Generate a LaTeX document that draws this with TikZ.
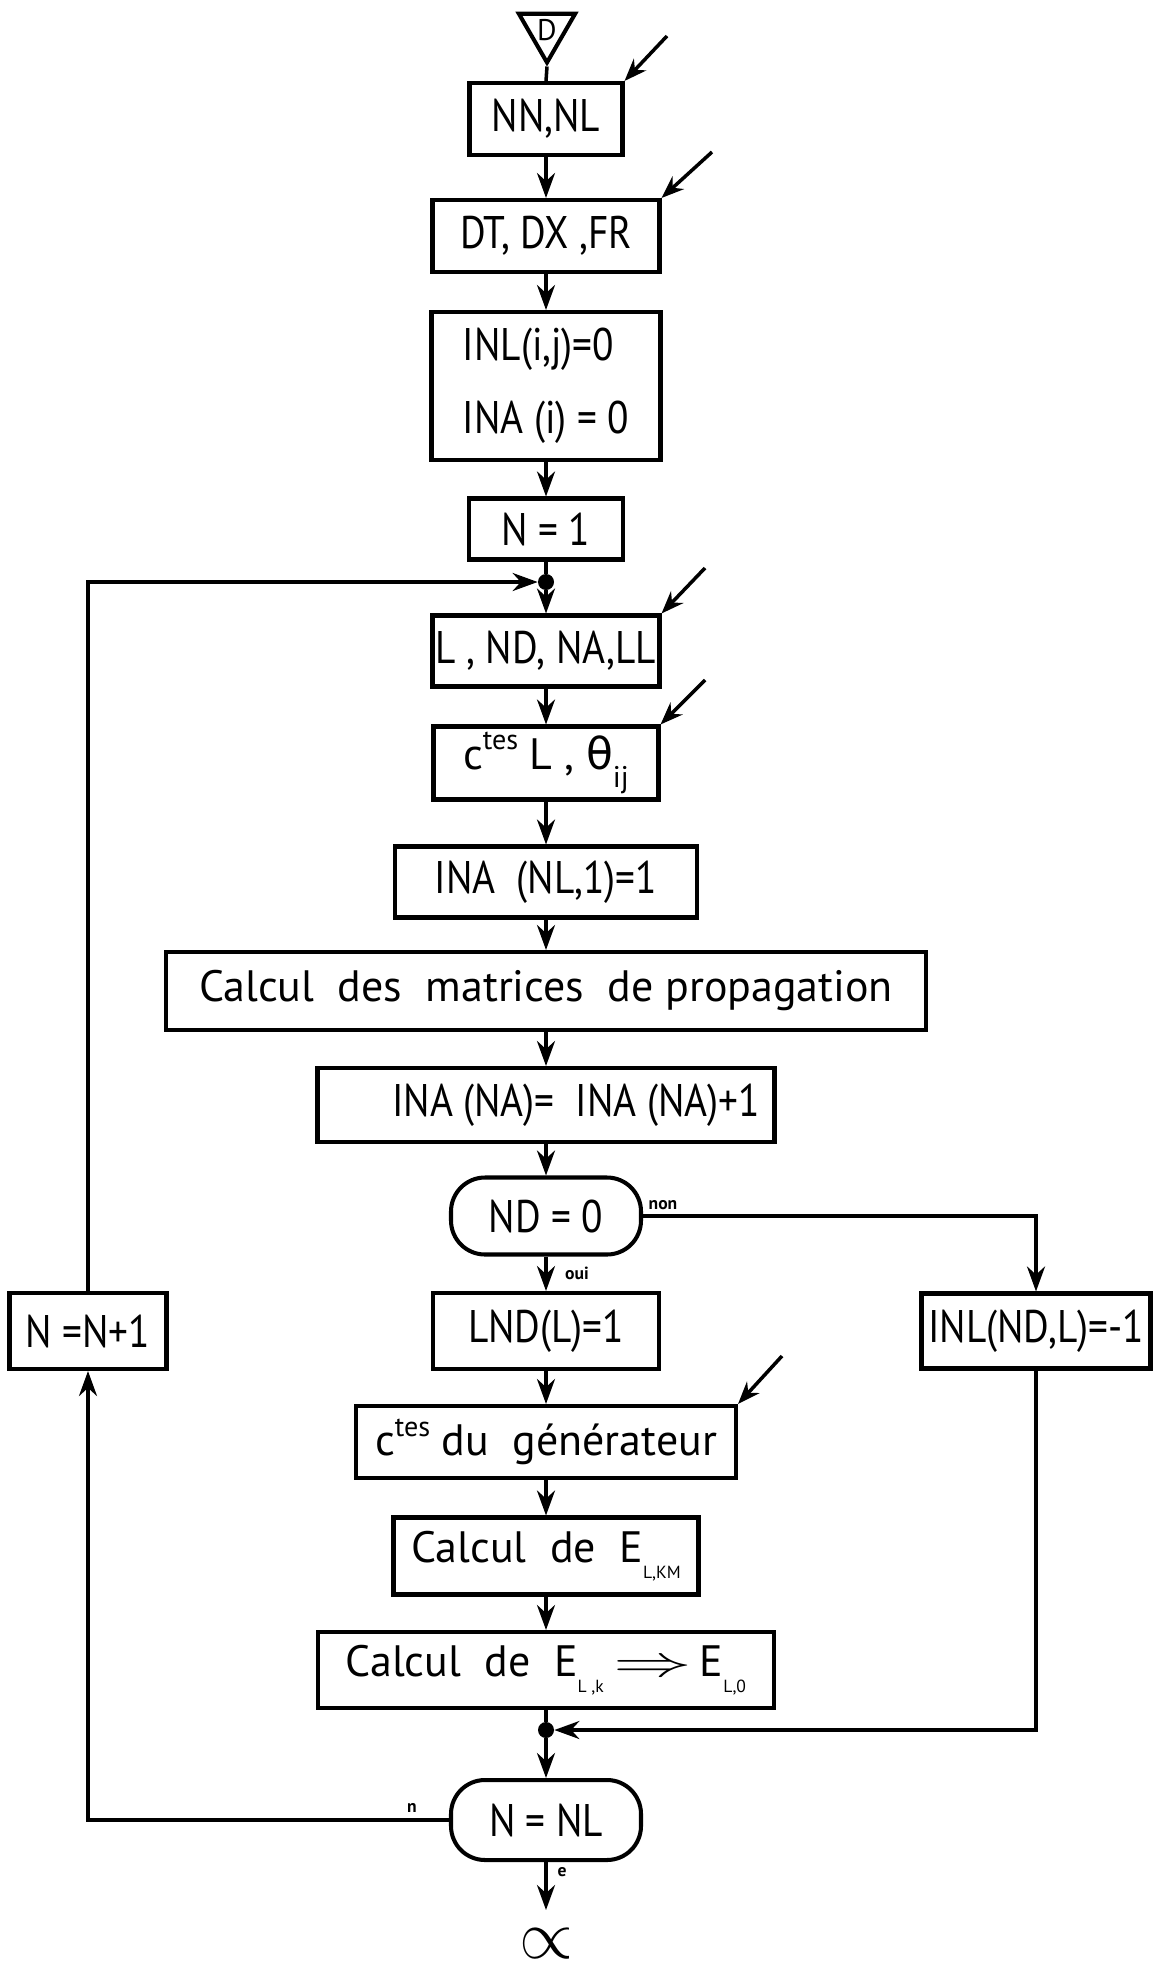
\documentclass[tikz,border=0pt]{standalone}
\usepackage{fontspec}
\setmainfont{PT Sans}
\newfontfamily\condf[FakeStretch=0.86]{PT Sans}
\newfontfamily\grk{DejaVu Sans}
\usetikzlibrary{arrows.meta,shapes.geometric}
\newcommand\mainsz{\fontsize{25}{29}\selectfont}
\newcommand\capsz{\condf\fontsize{26}{30}\selectfont}
\newcommand\supt[1]{\raisebox{0.45em}{\fontsize{16}{16}\selectfont #1}}
\newcommand\subt[1]{\raisebox{-0.35em}{\fontsize{10}{10}\selectfont #1}}
\newcommand\subg[1]{\raisebox{-0.4em}{\fontsize{17}{17}\selectfont #1}}
\begin{document}
\begin{tikzpicture}[x=0.02cm,y=-0.02cm,
  bx/.style 2 args={draw, line width=2.3pt, minimum width=#1*0.02cm, minimum height=#2*0.02cm, inner sep=1pt, font=\capsz},
  lc/.style={font=\mainsz},
  term/.style 2 args={bx={#1}{#2}, rounded corners=0.68cm},
  conn/.style={line width=2pt, -{Stealth[length=0.5cm,width=0.36cm]}},
  plain/.style={line width=2pt},
  inarr/.style={line width=2pt, -{Stealth[length=0.45cm,width=0.34cm]}},
  lab/.style={font=\bfseries\fontsize{10}{10}\selectfont},
  jdot/.style={circle, fill, inner sep=0pt, minimum size=0.32cm}]
\useasboundingbox (0,0) rectangle (1153,1967);
\fill[white] (0,0) rectangle (1153,1967);
% start
\node[draw, line width=2.3pt, regular polygon, regular polygon sides=3, shape border rotate=180, minimum size=1.3cm, inner sep=0pt, font=\fontsize{17}{17}\selectfont] (start) at (547,30) {D};
% main column
\node[bx={153}{72}] (nn) at (546,119) {NN,NL};
\node[bx={227}{72}] (dt) at (546,236) {DT, DX ,FR};
\node[bx={229}{148}, align=left] (inl) at (546,386) {INL(i,j)=0\\[0.4cm]INA (i) = 0};
\node[bx={154}{61}] (n1) at (546,529) {N = 1};
\node[jdot] (j1) at (546,582) {};
\node[bx={227}{71}] (lnd) at (546,651) {L , ND, NA,LL};
\node[bx={225}{73}, lc] (ctl) at (546,763) {c\supt{tes} L , {\grk θ}\subg{ij}};
\node[bx={302}{71}] (ina1) at (546,882) {INA \ (NL,1)=1};
\node[bx={760}{78}, lc] (calc) at (546,991) {Calcul \ des \ matrices \ de propagation};
\node[bx={457}{74}] (inana) at (546,1105) {\hspace*{1.2cm}INA (NA)= \ INA (NA)+1};
\node[term={190}{77}] (nd0) at (546,1216) {ND = 0};
\node[bx={226}{76}] (lnd1) at (546,1331) {LND(L)=1};
\node[bx={229}{75}] (inlm) at (1036,1331) {INL(ND,L)=-1};
\node[bx={157}{76}] (nn1) at (88,1331) {N =N+1};
\node[bx={380}{72}, lc] (ctg) at (546,1442) {c\supt{tes} du \ générateur};
\node[bx={305}{77}, lc] (ekm) at (546,1556) {Calcul \ de \ E\subt{L,KM}};
\node[bx={456}{76}, lc] (ek0) at (546,1670) {Calcul \ de \ E\subt{L ,k}\hspace{0.2cm}\scalebox{1.8}[1]{$\Rightarrow$}\hspace{0.15cm}E\subt{L,0}};
\node[jdot] (j2) at (546,1730) {};
\node[term={190}{80}] (nnl) at (546,1820) {N = NL};
\coordinate (endpt) at (546,1910);
\node[inner sep=0pt, font=\fontsize{20}{20}\selectfont] (endsym) at (546,1944) {\scalebox{1.9}{$\propto$}};
% labels
\node[lab] at (663,1205) {non};
\node[lab] at (577,1273) {oui};
\node[lab] at (412,1808) {n};
\node[lab] at (562,1872) {e};
% input arrows
\coordinate (i1) at (667,36);
\coordinate (i2) at (712,152);
\coordinate (i3) at (705,568);
\coordinate (i4) at (705,680);
\coordinate (i5) at (782,1356);
\draw[inarr] (i1) -- (nn.north east);
\draw[inarr] (i2) -- (dt.north east);
\draw[inarr] (i3) -- (lnd.north east);
\draw[inarr] (i4) -- (ctl.north east);
\draw[inarr] (i5) -- (ctg.north east);
% connectors
\draw[plain] (start.south) -- (nn.north);
\draw[conn] (nn) -- (dt);
\draw[conn] (dt) -- (inl);
\draw[conn] (inl) -- (n1);
\draw[plain] (n1) -- (j1);
\draw[conn] (j1) -- (lnd);
\draw[conn] (lnd) -- (ctl);
\draw[conn] (ctl) -- (ina1);
\draw[conn] (ina1) -- (calc);
\draw[conn] (calc) -- (inana);
\draw[conn] (inana) -- (nd0);
\draw[conn] (nd0) -- (lnd1);
\draw[conn] (nd0.east) -| (inlm.north);
\draw[conn] (lnd1) -- (ctg);
\draw[conn] (ctg) -- (ekm);
\draw[conn] (ekm) -- (ek0);
\draw[plain] (ek0) -- (j2);
\draw[conn] (inlm.south) |- (j2);
\draw[conn] (j2) -- (nnl);
\draw[conn] (nnl) -- (endpt);
\draw[conn] (nnl.west) -| (nn1.south);
\draw[conn] (nn1.north) |- (j1);
\end{tikzpicture}
\end{document}
